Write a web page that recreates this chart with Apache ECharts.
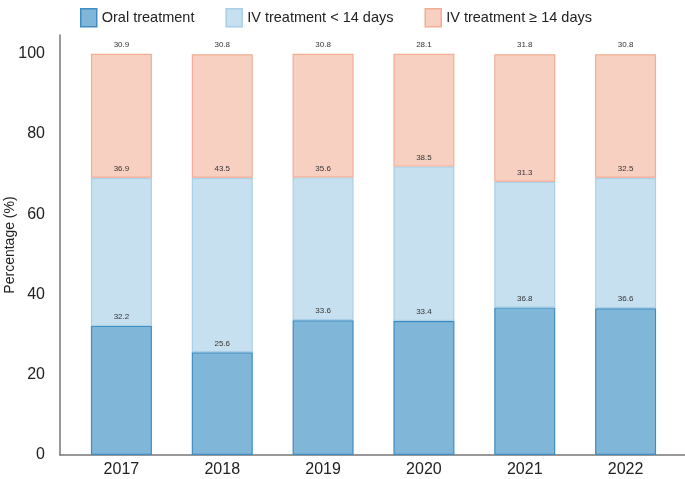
<!DOCTYPE html>
<html>
<head>
<meta charset="utf-8">
<script src="https://cdn.jsdelivr.net/npm/echarts@6/dist/echarts.min.js"></script>
<style>html,body{margin:0;padding:0;background:#fff;}#c{width:685px;height:479px;}</style>
</head>
<body>
<div id="c"></div>
<script>
const categories = ['2017', '2018', '2019', '2020', '2021', '2022'];
const oral = [32.2, 25.6, 33.6, 33.4, 36.8, 36.6];
const ivShort = [36.9, 43.5, 35.6, 38.5, 31.3, 32.5];
const ivLong = [30.9, 30.8, 30.8, 28.1, 31.8, 30.8];
const seriesNames = ['Oral treatment', 'IV treatment < 14 days', 'IV treatment \u2265 14 days'];
const yTicks = [0, 20, 40, 60, 80, 100];

const font = 'Liberation Sans, Arial, Helvetica, sans-serif';
const fills = ['#80b6d7', '#c7e0ef', '#f8d0c1'];
const borders = ['#3f8dc2', '#a8cfe7', '#f2ad95'];
const axisColor = '#777';
const yMax = 104.7;

function mk(name, vals, k) {
  return {
    name: name,
    type: 'bar',
    stack: 'total',
    barWidth: 61,
    xAxisIndex: 0, yAxisIndex: 0,
    data: vals,
    itemStyle: { color: fills[k], borderColor: borders[k], borderWidth: 1.2 },
    label: {
      show: true, position: 'top', distance: 5,
      fontSize: 8, color: '#333', fontFamily: font,
      formatter: p => Number(p.value).toFixed(1)
    }
  };
}

const chart = echarts.init(document.getElementById('c'));
chart.setOption({
  animation: false,
  textStyle: { fontFamily: font },
  legend: {
    left: 75, top: 3,
    icon: 'rect',
    itemWidth: 16, itemHeight: 18, itemGap: 31,
    textStyle: { fontSize: 14.5, color: '#222', fontFamily: font },
    data: seriesNames.map((n, k) => ({ name: n, itemStyle: { color: fills[k], borderColor: borders[k], borderWidth: 1.5 } }))
  },
  grid: [
    { left: 71, right: 9, top: 35, bottom: 24, containLabel: false, outerBoundsMode: 'none' },
    { left: 60, right: 0, top: 35, bottom: 24, containLabel: false, outerBoundsMode: 'none' }
  ],
  xAxis: [
    {
      type: 'category', gridIndex: 0,
      data: categories,
      axisTick: { show: false },
      axisLine: { show: false },
      axisLabel: { fontSize: 16, color: '#222', margin: 7, fontFamily: font }
    },
    {
      type: 'value', gridIndex: 1, min: 0, max: 1,
      axisTick: { show: false }, axisLabel: { show: false }, splitLine: { show: false },
      axisLine: { show: true, onZero: false, lineStyle: { color: axisColor, width: 1.5 } }
    }
  ],
  yAxis: [
    {
      type: 'value', gridIndex: 0, min: 0, max: yMax,
      show: false, splitLine: { show: false }
    },
    {
      type: 'value', gridIndex: 1,
      min: 0, max: yMax, interval: 20,
      name: 'Percentage (%)',
      nameLocation: 'middle',
      nameGap: 43,
      nameMoveOverlap: false,
      nameTextStyle: { fontSize: 14, color: '#222', fontFamily: font },
      splitLine: { show: false },
      axisTick: { show: false },
      axisLine: { show: true, lineStyle: { color: axisColor, width: 1.5 } },
      axisLabel: {
        customValues: yTicks,
        fontSize: 16, color: '#222', margin: 15, fontFamily: font
      }
    }
  ],
  series: [mk(seriesNames[0], oral, 0), mk(seriesNames[1], ivShort, 1), mk(seriesNames[2], ivLong, 2)]
});
</script>
</body>
</html>
